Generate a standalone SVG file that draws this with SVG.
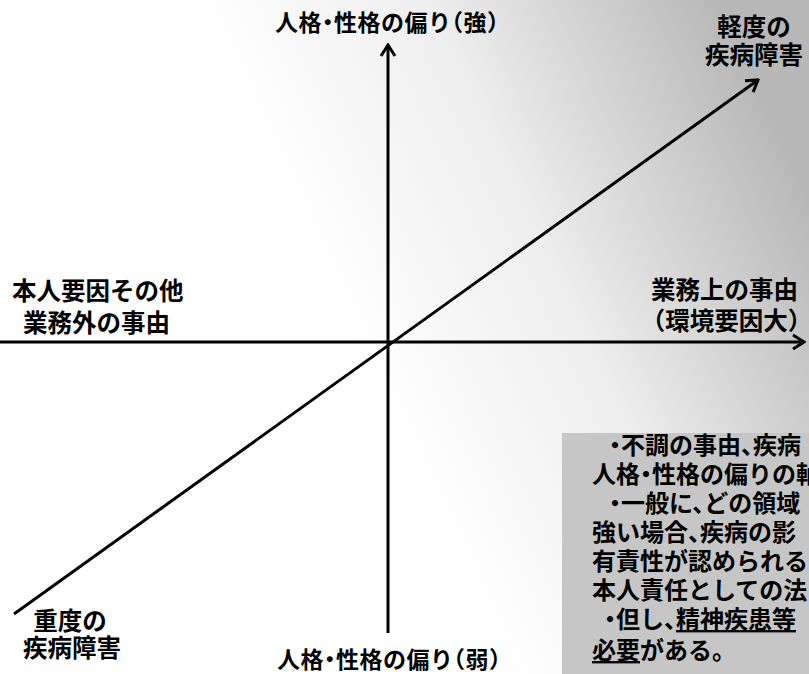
<svg xmlns="http://www.w3.org/2000/svg" width="809" height="674" viewBox="0 0 809 674">
  <defs>
    <linearGradient id="bg" gradientUnits="userSpaceOnUse" x1="380" y1="400" x2="809" y2="200">
      <stop offset="0" stop-color="#ffffff"/>
      <stop offset="0.45" stop-color="#eeeeee"/>
      <stop offset="1" stop-color="#b8b8b8"/>
    </linearGradient>
    <marker id="arr" viewBox="-14 -9 16 18" refX="0" refY="0" markerWidth="16" markerHeight="18" markerUnits="userSpaceOnUse" orient="auto">
      <path d="M-11,-7 L0,0 L-11,7" fill="none" stroke="#000" stroke-width="3" stroke-linejoin="miter"/>
    </marker>
    <style>
      .lbl { font-family: "Noto Sans CJK JP", "Noto Sans CJK SC", sans-serif; font-weight: 600; fill: #000; font-feature-settings: "halt"; }
      .t22 { font-size: 23px; letter-spacing: 0.5px; }
      .t24 { font-size: 24.5px; }
      .box { font-family: "Noto Sans CJK JP", "Noto Sans CJK SC", sans-serif; font-weight: 600; font-size: 24px; fill: #000; font-feature-settings: "halt"; }
      .ax { stroke: #000; stroke-width: 3; fill: none; marker-end: url(#arr); }
      .ul { text-decoration: underline; }
    </style>
  </defs>

  <rect x="0" y="0" width="809" height="674" fill="url(#bg)"/>

  <g id="connectors">
    <line class="ax" x1="388" y1="633" x2="388" y2="45"/>
    <line class="ax" x1="0" y1="342" x2="804" y2="342"/>
    <line class="ax" x1="14" y1="614" x2="758" y2="80"/>
  </g>

  <g id="top-label">
    <text class="lbl t22" x="275" y="31">人格・性格の偏り（強）</text>
  </g>
  <g id="bottom-label">
    <text class="lbl t22" x="277" y="668">人格・性格の偏り（弱）</text>
  </g>
  <g id="left-label">
    <text class="lbl t24" x="12" y="300">本人要因その他</text>
    <text class="lbl t24" x="23" y="332">業務外の事由</text>
  </g>
  <g id="right-label">
    <text class="lbl t24" x="651" y="299">業務上の事由</text>
    <text class="lbl t24" x="653" y="330">（環境要因大）</text>
  </g>
  <g id="mild-label">
    <text class="lbl t24" x="754" y="36" text-anchor="middle">軽度の</text>
    <text class="lbl t24" x="754" y="64" text-anchor="middle">疾病障害</text>
  </g>
  <g id="severe-label">
    <text class="lbl t24" x="70" y="630" text-anchor="middle">重度の</text>
    <text class="lbl t24" x="72" y="657" text-anchor="middle">疾病障害</text>
  </g>

  <g id="note-box">
    <rect x="562" y="433" width="247" height="241" fill="#c6c6c6"/>
    <text class="box" x="609" y="454">・不調の事由、疾病</text>
    <text class="box" x="592" y="483">人格・性格の偏りの軸</text>
    <text class="box" x="609" y="512">・一般に、どの領域</text>
    <text class="box" x="592" y="541">強い場合、疾病の影</text>
    <text class="box" x="592" y="570">有責性が認められる</text>
    <text class="box" x="592" y="599">本人責任としての法</text>
    <text class="box" x="604" y="628">・但し、<tspan class="ul">精神疾患等</tspan></text>
    <text class="box" x="592" y="659"><tspan class="ul">必要</tspan>がある。</text>
  </g>
</svg>
